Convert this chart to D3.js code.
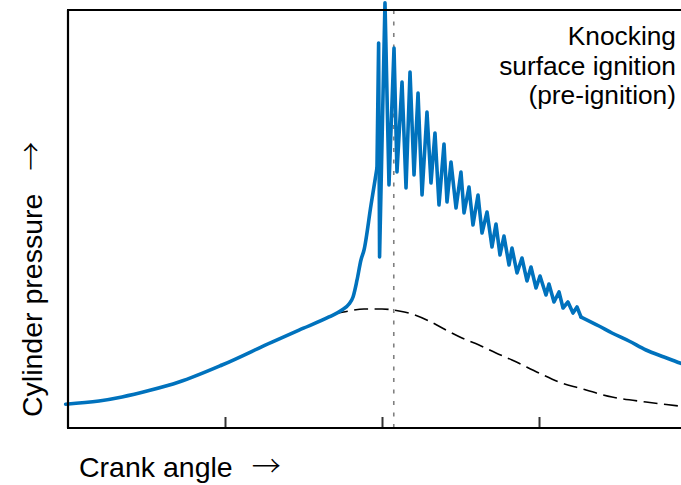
<!DOCTYPE html>
<html>
<head>
<meta charset="utf-8">
<script src="https://cdn.jsdelivr.net/npm/d3@7"></script>
<style>
  html, body { margin: 0; padding: 0; background: #fff; }
  svg { display: block; }
  text { font-family: "Liberation Sans", Arial, sans-serif; fill: #000; }
  .arr { font-family: "Noto Sans CJK SC", "DejaVu Sans", sans-serif; font-weight: 300; }
</style>
</head>
<body>
<div id="chart"></div>
<script>
// ---- Data (crank angle in degrees relative to TDC, pressure in relative units) ----
const xTicks = [-20, 0, 20];
const markerAngle = [1.5];

// knocking / pre-ignition pressure trace: compression part (smooth)
const compAngle = [
  -40.3, -36.05, -33.12, -29.68, -25.86, -20.38, -14.01, -10.57, -6.75, -5.10,
  -4.20, -3.69, -3.18, -2.68, -2.29, -1.40, -0.64
];
const compPressure = [
  5.7, 6.45, 7.42, 8.95, 11.0, 15.07, 20.57, 23.44, 26.56, 28.23,
  29.67, 31.34, 35.41, 40.19, 42.58, 53.35, 62.2
];
// oscillating part (pressure waves)
const oscAngle = [
  -0.64, -0.43, -0.31, 0.38,
  0.89, 1.53, 1.91, 2.55, 3.06, 3.57, 4.08, 4.59, 5.10, 5.73,
  6.24, 6.75, 7.26, 7.90, 8.28, 8.79, 9.43, 10.06, 10.45, 11.08,
  11.59, 12.23, 12.74, 13.38, 14.01, 14.52, 15.03, 15.54, 16.18, 16.56,
  17.20, 17.83, 18.47, 18.98, 19.62, 20.13, 20.89, 21.27, 21.91, 22.55,
  23.06, 23.69, 24.33, 24.84, 25.35
];
const oscPressure = [
  62.2, 92.1, 40.9, 101.7,
  58.13, 90.91, 61.24, 82.78, 57.42, 85.17, 60.53, 80.14, 55.74, 75.60,
  58.61, 70.57, 53.35, 67.94, 54.07, 63.64, 52.63, 61.24, 51.44, 57.66,
  48.56, 55.74, 46.65, 51.67, 43.30, 48.80, 41.39, 45.93, 39.00, 43.06,
  37.08, 40.67, 35.17, 38.52, 33.49, 36.36, 31.82, 34.45, 30.14, 32.54,
  28.71, 30.14, 27.51, 28.95, 26.56
];
// expansion part (smooth)
const expAngle = [25.35, 27.64, 29.30, 31.46, 33.63, 35.92, 37.96, 39.87];
const expPressure = [26.56, 24.40, 22.73, 20.81, 18.66, 16.99, 15.55, 14.35];

// normal combustion (reference) trace, dashed
const normalAngle = [
  -6.11, -4.20, -2.29, 0, 2.17, 3.82, 5.99, 8.15, 10.19, 12.36,
  14.52, 16.56, 20.0, 22.55, 25.10, 29.30, 33.63, 37.83, 39.87
];
const normalPressure = [
  27.27, 27.99, 28.47, 28.47, 27.99, 27.27, 25.60, 23.44, 21.53, 19.86,
  17.94, 16.27, 13.16, 11.0, 9.57, 7.42, 6.22, 5.26, 4.78
];

const annotationLines = ["Knocking", "surface ignition", "(pre-ignition)"];
const xLabel = "Crank angle";
const yLabel = "Cylinder pressure";
const arrow = "\u2192";

// ---- Layout ----
const W = 681, H = 485;
const plot = { left: 68, top: 10, right: 696, bottom: 428 };

const svg = d3.select("#chart").append("svg")
  .attr("width", W).attr("height", H);

const x = d3.scaleLinear().domain([-40, 40]).range([plot.left, plot.right]);
const y = d3.scaleLinear().domain([0, 100]).range([plot.bottom, plot.top]);

// vertical dotted marker
svg.selectAll("line.marker").data(markerAngle).enter().append("line")
  .attr("class", "marker")
  .attr("x1", d => x(d)).attr("x2", d => x(d))
  .attr("y1", plot.top).attr("y2", plot.bottom)
  .attr("stroke", "#808080").attr("stroke-width", 1.6)
  .attr("stroke-dasharray", "4,7.5");

// x axis ticks (inward)
const xAxis = d3.axisBottom(x).tickValues(xTicks).tickSize(-11).tickFormat("");
const gx = svg.append("g").attr("transform", `translate(0,${plot.bottom})`).call(xAxis);
gx.select(".domain").remove();
gx.selectAll(".tick line").attr("stroke", "#333").attr("stroke-width", 2);

// dashed normal curve
const normalData = normalAngle.map((a, i) => [a, normalPressure[i]]);
svg.append("path")
  .datum(normalData)
  .attr("fill", "none")
  .attr("stroke", "#000")
  .attr("stroke-width", 1.6)
  .attr("stroke-dasharray", "14,6.5")
  .attr("d", d3.line().x(d => x(d[0])).y(d => y(d[1])).curve(d3.curveMonotoneX));

// knocking curve (three joined pieces)
const smooth = d3.line().x(d => x(d[0])).y(d => y(d[1])).curve(d3.curveMonotoneX);
const sharp = d3.line().x(d => x(d[0])).y(d => y(d[1])).curve(d3.curveLinear);
const pieces = [
  { data: compAngle.map((a, i) => [a, compPressure[i]]), gen: smooth },
  { data: oscAngle.map((a, i) => [a, oscPressure[i]]), gen: sharp },
  { data: expAngle.map((a, i) => [a, expPressure[i]]), gen: smooth }
];
svg.selectAll("path.knock").data(pieces).enter().append("path")
  .attr("class", "knock")
  .attr("fill", "none")
  .attr("stroke", "#0072BD")
  .attr("stroke-width", 3.6)
  .attr("stroke-linejoin", "round")
  .attr("stroke-linecap", "round")
  .attr("d", d => d.gen(d.data));

// axes box lines (left, bottom, top)
svg.append("line").attr("x1", plot.left).attr("x2", plot.left)
  .attr("y1", plot.top).attr("y2", plot.bottom)
  .attr("stroke", "#000").attr("stroke-width", 2.2);
svg.append("line").attr("x1", plot.left - 1).attr("x2", W)
  .attr("y1", plot.bottom).attr("y2", plot.bottom)
  .attr("stroke", "#000").attr("stroke-width", 2.2);
svg.append("line").attr("x1", plot.left - 1).attr("x2", W)
  .attr("y1", plot.top).attr("y2", plot.top)
  .attr("stroke", "#000").attr("stroke-width", 2.2);

// annotation
svg.append("text")
  .attr("text-anchor", "end")
  .style("font-size", "26.3px")
  .selectAll("tspan").data(annotationLines).enter().append("tspan")
  .attr("x", 676)
  .attr("y", (d, i) => 45 + i * 29.5)
  .text(d => d);

// x label
const xl = svg.append("text").attr("x", 79).attr("y", 477).style("font-size", "28.5px");
xl.append("tspan").text(xLabel);
xl.append("tspan").attr("class", "arr").attr("dx", 19).style("font-size", "29px").text(arrow);

// y label
const yl = svg.append("text")
  .attr("transform", "translate(42,417) rotate(-90)")
  .style("font-size", "28.5px");
yl.append("tspan").text(yLabel);
yl.append("tspan").attr("class", "arr").attr("dx", 23).style("font-size", "29px").text(arrow);
</script>
</body>
</html>
